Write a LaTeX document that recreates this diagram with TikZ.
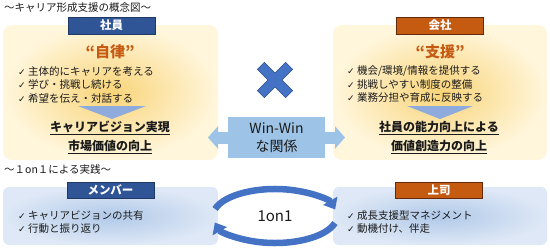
\documentclass[tikz,border=0pt]{standalone}
\usepackage{xcolor}
\usepackage{fontspec}
\setmainfont{Noto Sans CJK JP}
\newfontfamily\symfont{DejaVu Sans}
\usepackage{tikz}
\usetikzlibrary{arrows.meta}

\definecolor{tagblue}{RGB}{47,85,151}
\definecolor{tagnavy}{RGB}{31,56,100}
\definecolor{tagorange}{RGB}{197,90,17}
\definecolor{tagbrown}{RGB}{100,40,10}
\definecolor{xblue}{RGB}{68,114,196}
\definecolor{xedge}{RGB}{47,82,143}
\definecolor{wwblue}{RGB}{157,195,230}
\definecolor{dnblue}{RGB}{143,170,220}
\definecolor{yin}{RGB}{249,212,120}
\definecolor{yout}{RGB}{255,246,220}
\definecolor{bin}{RGB}{176,201,232}
\definecolor{bout}{RGB}{222,232,246}
\definecolor{ink}{RGB}{26,26,26}

\newcommand{\chkmark}{{\symfont\fontsize{9}{9}\selectfont ✓}\ }

\begin{document}
\begin{tikzpicture}[x=1pt, y=1pt, text=ink,
    ypanel/.style={rounded corners=9pt, inner color=yin, outer color=yout,
                   minimum width=215pt, minimum height=135pt},
    bpanel/.style={rounded corners=6pt, inner color=bin, outer color=bout,
                   minimum width=215pt, minimum height=58pt},
    tag/.style={draw, line width=0.9pt, minimum width=87pt, minimum height=17pt,
                inner sep=0pt, text=white, font=\fontsize{11.5}{11.5}\selectfont\bfseries},
    motto/.style={inner sep=0pt, text=tagorange, font=\fontsize{15}{15}\selectfont\bfseries},
    items/.style={align=left, anchor=west, inner sep=0pt, font=\fontsize{10.5}{13.5}\selectfont},
    goal/.style={align=center, inner sep=0pt, font=\fontsize{12}{19}\selectfont\bfseries},
    heading/.style={anchor=west, inner sep=0pt, font=\fontsize{10.5}{10.5}\selectfont},
    dnarr/.style={fill=dnblue},
    wwarr/.style={{Triangle[width=22pt,length=10pt]}-{Triangle[width=22pt,length=10pt]},
                  line width=12pt, wwblue},
    wwbox/.style={fill=wwblue, minimum width=97pt, minimum height=41pt, inner sep=0pt,
                  align=center, font=\fontsize{14}{18}\selectfont},
    cyc/.style={-{Triangle[width=16pt,length=10pt]}, line width=6.5pt, xblue},
]
\useasboundingbox (0,0) rectangle (550,-249);

% ── Concept: headings and panels ──────────────────────
\node[heading] (concept) at (4,-8) {〜キャリア形成支援の概念図〜};

\node[ypanel] (staffbox) at (110.5,-92.5) {};
\node[ypanel, minimum width=214pt] (corpbox) at (440,-92.5) {};

\node[tag, fill=tagblue, draw=tagnavy] (stafftag) at (111.5,-25.5) {社員};
\node[tag, fill=tagorange, draw=tagbrown] (corptag) at (440,-25.5) {会社};

\node[motto] (staffmotto) at (110,-52) {“自律”};
\node[motto] (corpmotto) at (440,-52) {“支援”};

\node[items] (staffitems) at (18,-84.5)
    {\chkmark 主体的にキャリアを考える\\\chkmark 学び・挑戦し続ける\\\chkmark 希望を伝え・対話する};
\node[items] (corpitems) at (347,-84.5)
    {\chkmark 機会/環境/情報を提供する\\\chkmark 挑戦しやすい制度の整備\\\chkmark 業務分担や育成に反映する};

% ── Down arrows into the goals ───────────────────────
\fill[dnarr] (78,-106) -- (146,-106) -- (112,-119) -- cycle;
\fill[dnarr] (407,-106) -- (473,-106) -- (440,-119) -- cycle;

\node[goal] (staffgoal) at (110,-137.5)
    {\underline{キャリアビジョン実現}\\\underline{市場価値の向上}};
\node[goal] (corpgoal) at (439,-137.5)
    {\underline{社員の能力向上による}\\\underline{価値創造力の向上}};

% ── Cross mark ────────────────────────────────────────
\begin{scope}[shift={(275,-80)}, rotate=45]
  \filldraw[fill=xblue, draw=xedge, line width=0.6pt]
    (5,20) -- (5,5) -- (20,5) -- (20,-5) -- (5,-5) -- (5,-20)
    -- (-5,-20) -- (-5,-5) -- (-20,-5) -- (-20,5) -- (-5,5) -- (-5,20) -- cycle;
\end{scope}

% ── Win-Win double arrow ──────────────────────────────
\coordinate (wwl) at (208,-137.5);
\coordinate (wwr) at (345,-137.5);
\draw[wwarr] (wwl) -- (wwr);
\node[wwbox] (winwin) at (276.5,-137.5) {Win-Win\\な関係};

% ── Practice: 1on1 ────────────────────────────────────
\node[heading] (practice) at (4,-170) {〜１on１による実践〜};

\node[bpanel] (memberbox) at (110.5,-216) {};
\node[bpanel, minimum width=214pt] (bossbox) at (440,-216) {};

\node[tag, fill=tagblue, draw=tagnavy, minimum height=16pt] (membertag) at (110.5,-190) {メンバー};
\node[tag, fill=tagorange, draw=tagbrown, minimum height=16pt] (bosstag) at (439,-190) {上司};

\node[items] (memberitems) at (18,-222)
    {\chkmark キャリアビジョンの共有\\\chkmark 行動と振り返り};
\node[items] (bossitems) at (347,-222)
    {\chkmark 成長支援型マネジメント\\\chkmark 動機付け、伴走};

\node[font=\fontsize{15}{15}\selectfont] (oneonone) at (275,-216) {1on1};
\draw[cyc] ([shift={(165:62pt and 27pt)}]oneonone.center)
    arc[start angle=165, end angle=14, x radius=62pt, y radius=27pt];
\draw[cyc] ([shift={(-15:62pt and 27pt)}]oneonone.center)
    arc[start angle=-15, end angle=-166, x radius=62pt, y radius=27pt];

\end{tikzpicture}
\end{document}
